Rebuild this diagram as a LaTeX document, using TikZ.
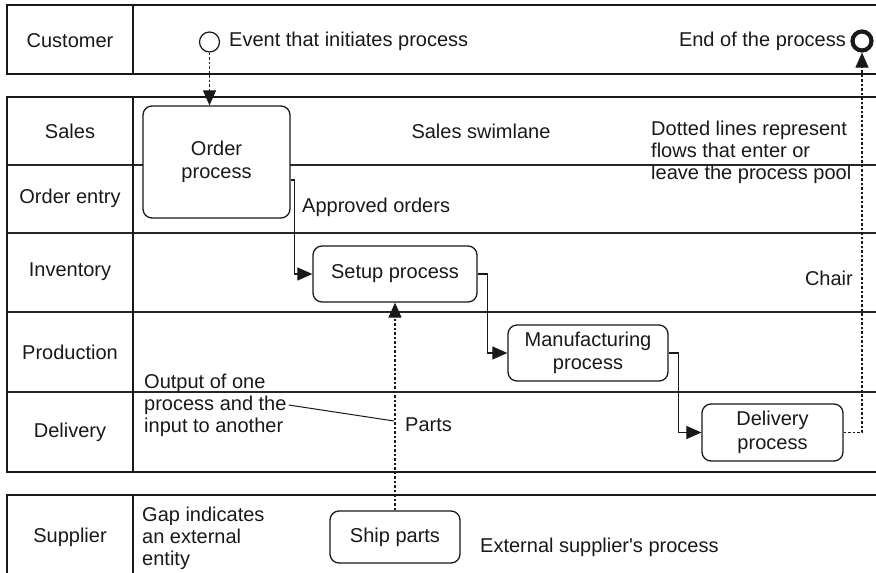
\documentclass[tikz,border=0pt]{standalone}
\usepackage{fontspec}
\setmainfont{Liberation Sans}
\usetikzlibrary{arrows.meta,calc}
\begin{document}
\begin{tikzpicture}[x=1pt,y=-1pt,
  pool/.style={line width=1.7pt, draw=black!90},
  lane/.style={line width=1.2pt, draw=black!85},
  txt/.style={font=\fontsize{20}{22}\selectfont, text=black!90, inner sep=0pt},
  note/.style={txt, align=left},
  proc/.style={txt, draw=black!90, line width=1.3pt, rounded corners=9pt,
    fill=white, align=center, font=\fontsize{20}{23.5}\selectfont},
  flow/.style={line width=1.2pt, draw=black!90,
    -{Triangle[length=15pt,width=13pt]}},
  msg/.style={flow, dash pattern=on 2.5pt off 2pt},
  event/.style={circle, draw=black!90, inner sep=0pt, fill=white}]
\useasboundingbox (0,0) rectangle (876,573);

% customer pool
\draw[pool] (876,5) -- (7,5) -- (7,74) -- (876,74);
\draw[pool] (133,5) -- (133,74);
% main process pool with its lanes
\draw[lane] (7,165) -- (876,165);
\draw[lane] (7,233) -- (876,233);
\draw[lane] (7,312) -- (876,312);
\draw[lane] (7,392) -- (876,392);
\draw[pool] (876,97) -- (7,97) -- (7,472) -- (876,472);
\draw[pool] (133,97) -- (133,472);
% supplier pool
\draw[pool] (876,495) -- (7,495) -- (7,573);
\draw[pool] (133,495) -- (133,573);

% lane labels
\node[txt] (lcust) at (70,41) {Customer};
\node[txt] (lsales) at (70,131) {Sales};
\node[txt] (lorder) at (70,198) {Order entry};
\node[txt] (linv) at (70,272) {Inventory};
\node[txt] (lprod) at (70,352) {Production};
\node[txt] (ldel) at (70,432) {Delivery};
\node[txt] (lsup) at (70,537) {Supplier};

% events
\node[event, line width=1.2pt, minimum size=20pt] (start) at (209.5,42) {};
\node[txt, anchor=west] (starttxt) at (229,41) {Event that initiates process};
\node[event, line width=4.2pt, minimum size=19pt] (end) at (862,41) {};
\node[txt, anchor=east] (endtxt) at (846,41) {End of the process};

% processes
\node[proc, minimum width=147pt, minimum height=112pt] (order) at (216.5,162) {Order\\process};
\node[proc, minimum width=164pt, minimum height=56pt] (setup) at (395,274) {Setup process};
\node[proc, minimum width=160pt, minimum height=56pt] (manuf) at (588,353) {Manufacturing\\process};
\node[proc, minimum width=141pt, minimum height=57pt] (deliv) at (772.5,432.5) {Delivery\\process};
\node[proc, minimum width=130pt, minimum height=52pt] (ship) at (395,537) {Ship parts};

% annotations
\node[txt] (swim) at (481,131) {Sales swimlane};
\node[note, anchor=west] (dotnote) at (651,152) {Dotted lines represent\\flows that enter or\\leave the process pool};
\node[txt, anchor=west] (approved) at (302,207) {Approved orders};
\node[txt, anchor=east] (chair) at (853,278) {Chair};
\node[note, anchor=west] (outnote) at (144,405) {Output of one\\process and the\\input to another};
\node[txt, anchor=west] (parts) at (405,425) {Parts};
\node[note, anchor=west] (gapnote) at (142,538) {Gap indicates\\an external\\entity};
\node[txt, anchor=west] (extnote) at (480,547) {External supplier\textquotesingle s process};

% sequence flows
\draw[flow] ([yshift=-18pt]order.east) -- ++(4,0) |- (setup.west);
\draw[flow] (setup.east) -- ++(10,0) |- (manuf.west);
\draw[flow] (manuf.east) -- ++(10,0) |- (deliv.west);
% message flows
\draw[msg] (start.south) -- (start.south |- order.north);
\draw[msg] (ship.north) -- (setup.south);
\draw[msg] (deliv.east) -| (end.south);
% pointer from the note to the parts flow
\coordinate (pa) at ($(outnote.east)+(2,0)$);
\coordinate (pb) at (394,421);
\draw[line width=1pt, black!90] (pa) -- (pb);
\end{tikzpicture}
\end{document}
